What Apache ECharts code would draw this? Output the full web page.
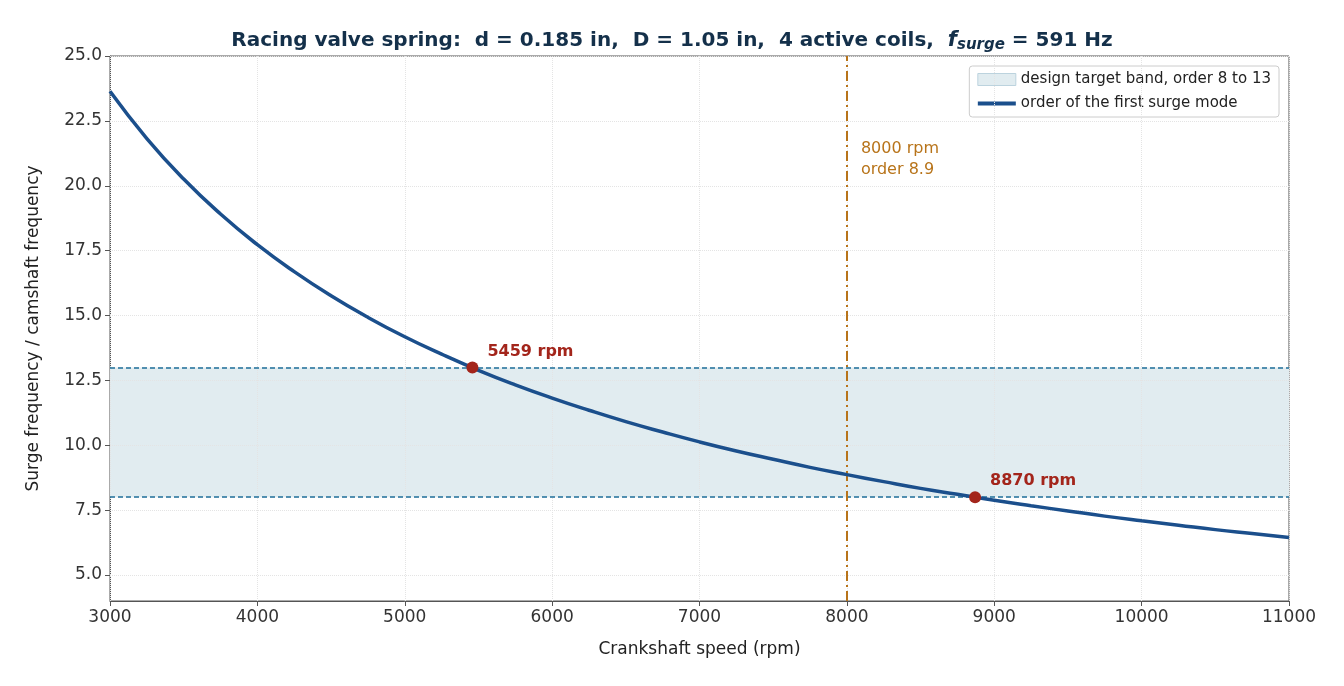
<!DOCTYPE html><html><head><meta charset="utf-8">
<script src="https://cdn.jsdelivr.net/npm/echarts@6/dist/echarts.min.js"></script>
<style>html,body{margin:0;background:#fff}#c{width:1344px;height:686px}</style></head><body><div id="c"></div>
<script>
const rpm=[3000,3250,3500,3750,4000,4250,4500,4750,5000,5250,5500,5750,6000,6250,6500,6750,7000,7250,7500,7750,8000,8250,8500,8750,9000,9250,9500,9750,10000,10250,10500,10750,11000];
const order=[23.64,21.82,20.26,18.91,17.73,16.69,15.76,14.93,14.18,13.51,12.89,12.33,11.82,11.35,10.91,10.51,10.13,9.78,9.46,9.15,8.87,8.60,8.34,8.11,7.88,7.67,7.47,7.27,7.09,6.92,6.75,6.60,6.45];
const yTicks=[5,7.5,10,12.5,15,17.5,20,22.5,25];
const xTicks=[3000,4000,5000,6000,7000,8000,9000,10000,11000];
const band=[8,13];
const crossings=[[5459,13,'5459 rpm'],[8870,8,'8870 rpm']];
const refRpm=8000, refOrder=8.9, refLabelY=21.0;
const F='DejaVu Sans';
const grid=[...yTicks.map(v=>({yAxis:v})),...xTicks.map(v=>({xAxis:v}))];
const c=echarts.init(document.getElementById('c'));
c.setOption({
 animation:false,
 title:{text:'Racing valve spring:  d = 0.185 in,  D = 1.05 in,  4 active coils,  {i|f}{s|surge} = 591 Hz',left:'center',top:24,
  textStyle:{fontFamily:F,fontSize:20,fontWeight:'bold',color:'#14304a',
   rich:{i:{fontFamily:F,fontSize:21,fontStyle:'italic',color:'#14304a'},s:{fontFamily:F,fontSize:15,fontStyle:'italic',color:'#14304a',padding:[9,0,0,0]}}}},
 grid:{left:110,right:55,top:56,bottom:85,show:true,borderColor:'#555',borderWidth:1},
 legend:{right:65,top:66,orient:'vertical',itemGap:9,padding:[6,8,6,8],borderColor:'#ccc',borderWidth:1,borderRadius:3,backgroundColor:'#fff',
  textStyle:{fontFamily:F,fontSize:15,color:'#222'},itemWidth:38,itemHeight:12,
  data:[{name:'design target band, order 8 to 13',icon:'rect',itemStyle:{color:'#e1ecf0',borderColor:'#bcd3de',borderWidth:1}},{name:'order of the first surge mode',icon:'path://M0,0H40V4H0Z'}]},
 xAxis:{type:'value',min:3000,max:11000,interval:1000,name:'Crankshaft speed (rpm)',nameLocation:'middle',nameGap:40,
  nameTextStyle:{fontFamily:F,fontSize:17,color:'#222'},axisLine:{lineStyle:{color:'#555'}},axisTick:{show:true,length:5,lineStyle:{color:'#555'}},
  axisLabel:{fontFamily:F,fontSize:17,color:'#333',formatter:v=>String(v)},splitLine:{show:false}},
 yAxis:{type:'value',min:4,max:25,name:'Surge frequency / camshaft frequency',nameLocation:'middle',nameGap:68,
  nameTextStyle:{fontFamily:F,fontSize:17,color:'#222'},axisLine:{show:true,lineStyle:{color:'#555'}},
  axisTick:{show:true,length:5,customValues:yTicks,lineStyle:{color:'#555'}},
  axisLabel:{fontFamily:F,fontSize:17,color:'#333',customValues:yTicks,formatter:v=>v.toFixed(1)},splitLine:{show:false}},
 series:[
  {name:'design target band, order 8 to 13',type:'line',data:[],itemStyle:{color:'#e1ecf0'},
   markLine:{silent:true,symbol:'none',label:{show:false},lineStyle:{color:'#e4e4e4',type:'dotted',width:1},data:grid},
   markArea:{silent:true,itemStyle:{color:'#e1ecf0'},data:[[{yAxis:band[0]},{yAxis:band[1]}]]}},
  {type:'line',data:[],markLine:{silent:true,symbol:'none',label:{show:false},lineStyle:{color:'#1f6f99',type:[5,3],width:1.5},data:band.map(v=>({yAxis:v}))}},
  {type:'line',data:[],markLine:{silent:true,symbol:'none',lineStyle:{color:'#b8741a',type:[10,4,2,4],width:2},label:{show:false},data:[{xAxis:refRpm}]},
   markPoint:{symbol:'circle',symbolSize:0,silent:true,data:[{coord:[refRpm,refLabelY]}],
    label:{show:true,position:'right',distance:14,formatter:refRpm+' rpm\norder '+refOrder,color:'#b8741a',fontFamily:F,fontSize:16,lineHeight:21}}},
  {name:'order of the first surge mode',type:'line',data:rpm.map((r,i)=>[r,order[i]]),smooth:true,showSymbol:false,lineStyle:{color:'#1b4f8c',width:3.5},itemStyle:{color:'#1b4f8c'},z:5},
  {type:'scatter',data:crossings.map(p=>({value:[p[0],p[1]],label:{formatter:p[2]}})),symbolSize:12,itemStyle:{color:'#a3251b',opacity:1},z:6,
   label:{show:true,position:'right',offset:[4,-16],color:'#a3251b',fontFamily:F,fontSize:16,fontWeight:'bold'}}
 ]});
</script></body></html>
